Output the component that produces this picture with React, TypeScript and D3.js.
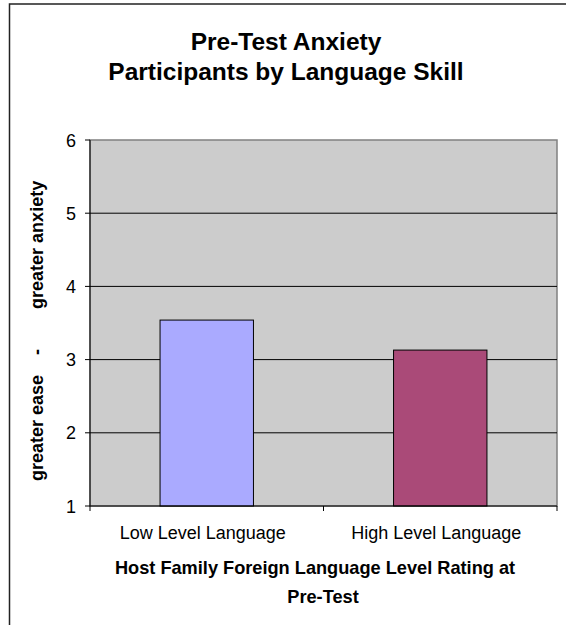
import React from "react";
import * as d3 from "d3";

const categories = ["Low Level Language", "High Level Language"];
const values = [3.54, 3.13];
const barColors = ["#aaaaff", "#aa4a78"];
const yTicks = [1, 2, 3, 4, 5, 6];
const titleLines = ["Pre-Test Anxiety", "Participants by Language Skill"];
const xTitleLines = ["Host Family Foreign Language Level Rating at", "Pre-Test"];
const yTitle = "greater ease    -        greater anxiety";

const W = 566;
const H = 625;
const plot = { left: 90, top: 140, right: 557, bottom: 506 };

export default function App() {
  const x = d3
    .scaleBand<string>()
    .domain(categories)
    .range([plot.left, plot.right])
    .paddingInner(0.6)
    .paddingOuter(0.3);
  const band = (plot.right - plot.left) / categories.length;
  const y = d3.scaleLinear().domain([1, 6]).range([plot.bottom, plot.top]);
  const font = "Arial, 'Liberation Sans', sans-serif";

  return (
    <svg
      width={W}
      height={H}
      style={{ position: "absolute", left: 0, top: 0, background: "#fff" }}
      fontFamily={font}
    >
      {/* chart frame */}
      <rect x={9.5} y={4} width={W + 20} height={H + 20} fill="#fff" stroke="#222" strokeWidth={1.5} />

      {/* title */}
      {titleLines.map((t, i) => (
        <text key={t} x={286} y={50 + i * 30} textAnchor="middle" fontSize={24.5} fontWeight="bold">
          {t}
        </text>
      ))}

      {/* plot area */}
      <rect
        x={plot.left}
        y={plot.top}
        width={plot.right - plot.left}
        height={plot.bottom - plot.top}
        fill="#cccccc"
        stroke="#808080"
        strokeWidth={1.5}
      />

      {/* gridlines */}
      {yTicks.slice(1, -1).map((t) => (
        <line key={t} x1={plot.left} x2={plot.right} y1={y(t)} y2={y(t)} stroke="#000" strokeWidth={1} />
      ))}

      {/* bars */}
      {categories.map((c, i) => (
        <rect
          key={c}
          x={x(c)}
          y={y(values[i])}
          width={x.bandwidth()}
          height={y(1) - y(values[i])}
          fill={barColors[i]}
          stroke="#000"
          strokeWidth={1}
        />
      ))}

      {/* y axis */}
      <line x1={plot.left} x2={plot.left} y1={plot.top} y2={plot.bottom} stroke="#000" strokeWidth={1} />
      {yTicks.map((t) => (
        <g key={t}>
          <line x1={plot.left - 5} x2={plot.left} y1={y(t)} y2={y(t)} stroke="#000" />
          <text x={76} y={y(t) + 6.5} textAnchor="end" fontSize={18}>
            {t}
          </text>
        </g>
      ))}

      {/* x axis */}
      <line x1={plot.left} x2={plot.right} y1={plot.bottom} y2={plot.bottom} stroke="#000" strokeWidth={1} />
      {d3.range(categories.length + 1).map((i) => (
        <line
          key={i}
          x1={plot.left + i * band}
          x2={plot.left + i * band}
          y1={plot.bottom}
          y2={plot.bottom + 5}
          stroke="#000"
        />
      ))}
      {categories.map((c) => (
        <text key={c} x={(x(c) ?? 0) + x.bandwidth() / 2 - 4} y={539} textAnchor="middle" fontSize={18}>
          {c}
        </text>
      ))}

      {/* axis titles */}
      {xTitleLines.map((t, i) => (
        <text key={t} x={315 + i * 8} y={574 + i * 29} textAnchor="middle" fontSize={18.2} fontWeight="bold">
          {t}
        </text>
      ))}
      <text
        transform={`translate(43,481) rotate(-90)`}
        textAnchor="start"
        fontSize={18}
        fontWeight="bold"
        xmlSpace="preserve"
        style={{ whiteSpace: "pre" }}
      >
        {yTitle}
      </text>
    </svg>
  );
}
